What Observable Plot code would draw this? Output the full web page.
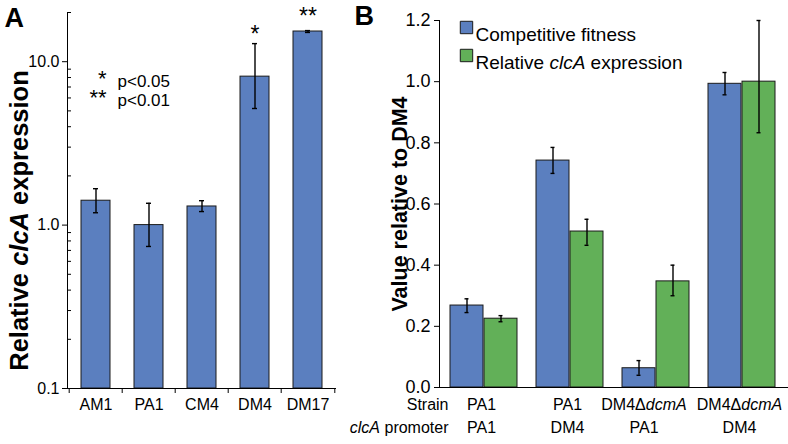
<!DOCTYPE html>
<html><head><meta charset="utf-8">
<script src="https://cdn.jsdelivr.net/npm/d3@7"></script>
<script src="https://cdn.jsdelivr.net/npm/@observablehq/plot@0.6"></script>
<style>
body{margin:0;background:#fff;}
#wrap{position:relative;width:788px;height:444px;overflow:hidden;font-family:"Liberation Sans",Arial,sans-serif;}
#a{position:absolute;left:0;top:0;}
#b{position:absolute;left:340px;top:0;}
svg{overflow:visible;}
</style></head><body>
<div id="wrap"><div id="a"></div><div id="b"></div></div>
<script>
// Panel A data
const strainsA = ["AM1", "PA1", "CM4", "DM4", "DM17"];
const exprA = [1.41, 1.0, 1.30, 8.1, 15.3];
const exprAHigh = [1.67, 1.36, 1.41, 12.9, 15.5];
const exprALow = [1.19, 0.74, 1.21, 5.17, 15.1];
const sigA = ["", "", "", "*", "**"];
const sigStars = ["*", "**"];
const sigText = ["p<0.05", "p<0.01"];
const yTicksA = [0.1, 1, 10];
const yMinorA = [0.2, 0.3, 0.4, 0.5, 0.6, 0.7, 0.8, 0.9, 2, 3, 4, 5, 6, 7, 8, 9, 20];

// Panel B data
const groupsB = ["g1", "g2", "g3", "g4"];
const strainB = ["PA1", "PA1", "DM4ΔdcmA", "DM4ΔdcmA"];
const promoterB = ["PA1", "DM4", "PA1", "DM4"];
const seriesB = ["Competitive fitness", "Relative clcA expression"];
const fitness = [0.268, 0.742, 0.063, 0.993];
const fitnessHigh = [0.290, 0.785, 0.088, 1.030];
const fitnessLow = [0.245, 0.700, 0.040, 0.957];
const clcA = [0.225, 0.510, 0.347, 1.000];
const clcAHigh = [0.235, 0.550, 0.400, 1.200];
const clcALow = [0.215, 0.465, 0.300, 0.833];
const yTicksB = [0, 0.2, 0.4, 0.6, 0.8, 1.0, 1.2];
const rowHeaders = ["Strain", "clcA promoter"];

const BLUE = "#5b7fbf", GREEN = "#62b058", EDGE = "#1a1a1a";
const FONT = "Liberation Sans, Arial, sans-serif";

const dataA = strainsA.map((s, i) => ({strain: s, v: exprA[i], hi: exprAHigh[i], lo: exprALow[i], sig: sigA[i]}));

const plotA = Plot.plot({
  width: 345, height: 444, marginLeft: 67, marginRight: 10, marginTop: 12, marginBottom: 56,
  style: {fontFamily: FONT, fontSize: "16px", color: "#000", background: "transparent", overflow: "visible"},
  x: {domain: strainsA, paddingInner: 0.46, paddingOuter: 0.23},
  y: {type: "log", domain: [0.1, 20]},
  marks: [
    Plot.barY(dataA, {x: "strain", y1: 0.1, y2: "v", fill: BLUE, stroke: EDGE, strokeWidth: 1}),
    Plot.ruleX(dataA, {x: "strain", y1: "lo", y2: "hi", stroke: "#000", strokeWidth: 1.4}),
    Plot.tickY(dataA, {x: "strain", y: "hi", inset: 12, stroke: "#000", strokeWidth: 1.4}),
    Plot.tickY(dataA, {x: "strain", y: "lo", inset: 12, stroke: "#000", strokeWidth: 1.4}),
    Plot.text(dataA.filter(d => d.sig === "*"), {x: "strain", y: "hi", text: "sig", lineAnchor: "bottom", dy: -2, fontSize: 23}),
    Plot.text(dataA.filter(d => d.sig === "**"), {x: "strain", y: "hi", text: "sig", lineAnchor: "bottom", dy: -7, fontSize: 23}),
    Plot.text(sigStars, {frameAnchor: "top-left", text: d => d, textAnchor: "end", dx: 39, dy: 58, fontSize: 22, filter: (d, i) => i === 0}),
    Plot.text(sigStars, {frameAnchor: "top-left", text: d => d, textAnchor: "end", dx: 39, dy: 77, fontSize: 22, filter: (d, i) => i === 1}),
    Plot.text(sigText, {frameAnchor: "top-left", text: d => d, textAnchor: "start", dx: 50, dy: 62, fontSize: 17, filter: (d, i) => i === 0}),
    Plot.text(sigText, {frameAnchor: "top-left", text: d => d, textAnchor: "start", dx: 50, dy: 81, fontSize: 17, filter: (d, i) => i === 1}),
    Plot.frame({anchor: "left", stroke: "#000"}),
    Plot.frame({anchor: "bottom", stroke: "#000"}),
    Plot.tickY(yMinorA, {y: d => d, insetRight: 264, stroke: "#000"}),
    Plot.tickX(strainsA, {x: d => d, dx: -26.8, insetTop: 376, insetBottom: -5, stroke: "#000"}),
    Plot.tickX(strainsA.slice(-1), {x: d => d, dx: 26.8, insetTop: 376, insetBottom: -5, stroke: "#000"}),
    Plot.axisY({ticks: yTicksA, tickFormat: d3.format(".1f"), tickSize: 5, tickPadding: 3, label: null}),
    Plot.axisX({tickSize: 0, tickPadding: 10, label: null}),
    Plot.text(["Relative clcA expression"], {frameAnchor: "left", text: d => d, textAnchor: "middle", rotate: -90, dx: -48, dy: 20, fontSize: 25.5, fontWeight: "bold"}),
    Plot.text(["A"], {frameAnchor: "top-left", text: d => d, textAnchor: "start", lineAnchor: "top", dx: -63, dy: -5, fontSize: 27, fontWeight: "bold"})
  ]
});
document.getElementById("a").appendChild(plotA);

const dataB = groupsB.flatMap((g, i) => [
  {g, s: seriesB[0], v: fitness[i], hi: fitnessHigh[i], lo: fitnessLow[i]},
  {g, s: seriesB[1], v: clcA[i], hi: clcAHigh[i], lo: clcALow[i]}
]);
const blueB = dataB.filter(d => d.s === seriesB[0]);
const greenB = dataB.filter(d => d.s === seriesB[1]);
const labelsB = groupsB.map((g, i) => ({g, strain: strainB[i], promoter: promoterB[i], i}));

const plotB = Plot.plot({
  width: 448, height: 444, marginLeft: 99, marginRight: 1, marginTop: 20, marginBottom: 57,
  style: {fontFamily: FONT, fontSize: "16px", color: "#000", background: "transparent", overflow: "visible"},
  x: {domain: groupsB, paddingInner: 0.219, paddingOuter: 0.11, axis: null},
  y: {domain: [0, 1.2]},
  marks: [
    Plot.barY(blueB, {x: "g", y: "v", insetRight: 34, fill: BLUE, stroke: EDGE, strokeWidth: 1}),
    Plot.barY(greenB, {x: "g", y: "v", insetLeft: 34, fill: GREEN, stroke: EDGE, strokeWidth: 1}),
    Plot.ruleX(blueB, {x: "g", y1: "lo", y2: "hi", dx: -17, stroke: "#000", strokeWidth: 1.4}),
    Plot.ruleX(greenB, {x: "g", y1: "lo", y2: "hi", dx: 17, stroke: "#000", strokeWidth: 1.4}),
    Plot.tickY(blueB, {x: "g", y: "hi", inset: 31.5, dx: -17, stroke: "#000", strokeWidth: 1.4}),
    Plot.tickY(blueB, {x: "g", y: "lo", inset: 31.5, dx: -17, stroke: "#000", strokeWidth: 1.4}),
    Plot.tickY(greenB, {x: "g", y: "hi", inset: 31.5, dx: 17, stroke: "#000", strokeWidth: 1.4}),
    Plot.tickY(greenB, {x: "g", y: "lo", inset: 31.5, dx: 17, stroke: "#000", strokeWidth: 1.4}),
    Plot.frame({anchor: "left", stroke: "#000"}),
    Plot.frame({anchor: "bottom", stroke: "#000"}),
    Plot.axisY({ticks: yTicksB, tickFormat: d3.format(".1f"), tickSize: 5, tickPadding: 4, fontSize: 18, label: null}),
    Plot.text(labelsB.filter(d => d.i !== 2), {x: "g", frameAnchor: "bottom", text: "strain", dx: -2.5, dy: 22}),
    Plot.text(labelsB.filter(d => d.i === 2), {x: "g", frameAnchor: "bottom", text: "strain", dx: -12, dy: 22}),
    Plot.text(labelsB.filter(d => d.i !== 2), {x: "g", frameAnchor: "bottom", text: "promoter", dx: -2.5, dy: 45}),
    Plot.text(labelsB.filter(d => d.i === 2), {x: "g", frameAnchor: "bottom", text: "promoter", dx: -12, dy: 45}),
    Plot.text(rowHeaders, {frameAnchor: "bottom-left", text: d => d, textAnchor: "end", dx: 9, dy: 22, filter: (d, i) => i === 0}),
    Plot.text(rowHeaders, {frameAnchor: "bottom-left", text: d => d, textAnchor: "end", dx: 9, dy: 45, filter: (d, i) => i === 1}),
    // legend
    Plot.dot(seriesB, {frameAnchor: "top-left", symbol: "square", r: 7, fill: BLUE, stroke: EDGE, strokeWidth: 1, dx: 27, dy: 7, filter: (d, i) => i === 0}),
    Plot.dot(seriesB, {frameAnchor: "top-left", symbol: "square", r: 7, fill: GREEN, stroke: EDGE, strokeWidth: 1, dx: 27, dy: 35, filter: (d, i) => i === 1}),
    Plot.text(seriesB, {frameAnchor: "top-left", text: d => d, textAnchor: "start", dx: 36, dy: 7, fontSize: 19, filter: (d, i) => i === 0}),
    Plot.text(seriesB, {frameAnchor: "top-left", text: d => d, textAnchor: "start", dx: 36, dy: 35, fontSize: 19, filter: (d, i) => i === 1}),
    Plot.text(["Value relative to DM4"], {frameAnchor: "left", text: d => d, textAnchor: "middle", rotate: -90, dx: -39, dy: 0, fontSize: 21.5, fontWeight: "bold"}),
    Plot.text(["B"], {frameAnchor: "top-left", text: d => d, textAnchor: "start", lineAnchor: "top", dx: -85, dy: -15, fontSize: 27, fontWeight: "bold"})
  ]
});
document.getElementById("b").appendChild(plotB);

function italicize(root, full, part) {
  root.querySelectorAll("text").forEach(t => {
    if (t.textContent !== full || t.querySelector("tspan")) return;
    const idx = full.indexOf(part);
    t.textContent = "";
    const ns = "http://www.w3.org/2000/svg";
    const pieces = [[full.slice(0, idx), false], [part, true], [full.slice(idx + part.length), false]];
    for (const [str, it] of pieces) {
      if (!str) continue;
      const ts = document.createElementNS(ns, "tspan");
      ts.textContent = str;
      if (it) ts.setAttribute("font-style", "italic");
      t.appendChild(ts);
    }
  });
}
for (const svg of [plotA, plotB]) {
  italicize(svg, "Relative clcA expression", "clcA");
  italicize(svg, "clcA promoter", "clcA");
  italicize(svg, "DM4ΔdcmA", "dcmA");
}
</script>
</body></html>
